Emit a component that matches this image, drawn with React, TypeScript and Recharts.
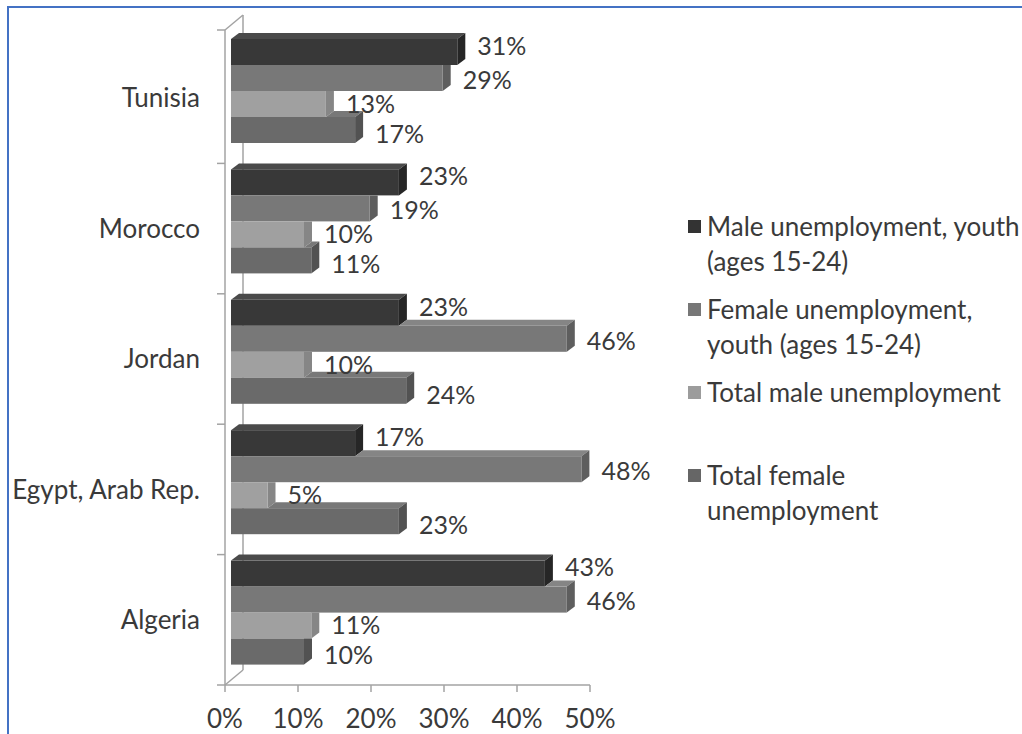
import React from "react";
import { BarChart, Bar, XAxis, YAxis, LabelList } from "recharts";

// Unemployment rates (%) by country
const countries = ["Tunisia", "Morocco", "Jordan", "Egypt, Arab Rep.", "Algeria"];
const maleYouth = [31, 23, 23, 17, 43];
const femaleYouth = [29, 19, 46, 48, 46];
const maleTotal = [13, 10, 10, 5, 11];
const femaleTotal = [17, 11, 24, 23, 10];

const xTicks = [0, 10, 20, 30, 40, 50];

const seriesKeys = ["maleYouth", "femaleYouth", "maleTotal", "femaleTotal"];
const seriesLegend = [
  ["Male unemployment, youth", "(ages 15-24)"],
  ["Female unemployment,", "youth (ages 15-24)"],
  ["Total male unemployment"],
  ["Total female", "unemployment"],
];
const seriesFront = ["#383838", "#787878", "#a0a0a0", "#6a6a6a"];
const seriesTop = ["#4a4a4a", "#858585", "#b0b0b0", "#787878"];
const seriesSide = ["#262626", "#5e5e5e", "#868686", "#525252"];
const legendSwatch = ["#333333", "#777777", "#9c9c9c", "#666666"];
// small vertical nudges so neighbouring value labels don't collide
const labelNudge = [-6, 2, 0, 4];

const data = countries.map((country, i) => ({
  country,
  maleYouth: maleYouth[i],
  femaleYouth: femaleYouth[i],
  maleTotal: maleTotal[i],
  femaleTotal: femaleTotal[i],
}));

const W = 1022;
const H = 734;
const PLOT_LEFT = 225;
const PLOT_RIGHT = 590;
const PLOT_TOP = 33;
const PLOT_BOTTOM = 685;

// 3D look: front face pushed into the box, then extruded backwards
const FACE_X = 6;
const FACE_Y = -7;
const DEPTH_X = 8;
const DEPTH_Y = -6;
const WALL_X = 18;
const WALL_Y = -15;

const FONT = "Lato, 'Noto Sans', sans-serif";
const TEXT = "#3a3a3a";
const AXIS = "#a3a3a3";

function Bar3D(props: any) {
  const { x, y, width, height, payload, seriesIndex } = props;
  if (!width || width <= 0) return null;
  const v = payload[seriesKeys[seriesIndex]];
  const prevV = seriesIndex > 0 ? payload[seriesKeys[seriesIndex - 1]] : 0;
  const prevW = v > 0 ? (width * prevV) / v : 0;
  const fx = x + FACE_X;
  const fy = y + FACE_Y;
  const right = fx + width;
  const bottom = fy + height;
  const x0 = fx + prevW;
  const covered = seriesIndex > 0 && prevW >= width;
  const side = covered
    ? `${right},${fy} ${right + DEPTH_X},${fy} ${right + DEPTH_X},${bottom + DEPTH_Y} ${right},${bottom}`
    : `${right},${fy} ${right + DEPTH_X},${fy + DEPTH_Y} ${right + DEPTH_X},${bottom + DEPTH_Y} ${right},${bottom}`;
  return (
    <g>
      {!covered && (
        <polygon
          points={`${x0},${fy} ${x0 + DEPTH_X},${fy + DEPTH_Y} ${right + DEPTH_X},${fy + DEPTH_Y} ${right},${fy}`}
          fill={seriesTop[seriesIndex]}
        />
      )}
      <polygon points={side} fill={seriesSide[seriesIndex]} />
      <rect x={fx} y={fy} width={width} height={height} fill={seriesFront[seriesIndex]} />
    </g>
  );
}

function BarValue(props: any) {
  const { x, y, width, height, value, seriesIndex } = props;
  return (
    <text
      x={x + width + FACE_X + DEPTH_X + 12}
      y={y + height / 2 + FACE_Y + labelNudge[seriesIndex]}
      dy="0.35em"
      fill={TEXT}
      fontSize={25}
      fontFamily={FONT}
    >
      {value}%
    </text>
  );
}

// side wall and floor edges of the 3D box
function Walls() {
  const band = (PLOT_BOTTOM - PLOT_TOP) / countries.length;
  const ticks = countries.map((_, i) => PLOT_TOP + band * i).concat([PLOT_BOTTOM]);
  return (
    <svg width={W} height={H} style={{ position: "absolute", left: 0, top: 0 }}>
      <g stroke={AXIS} strokeWidth={1.5} fill="none">
        <line x1={PLOT_LEFT} y1={PLOT_TOP - 3} x2={PLOT_LEFT} y2={PLOT_BOTTOM} />
        <line x1={PLOT_LEFT + WALL_X} y1={PLOT_TOP - 3 + WALL_Y} x2={PLOT_LEFT + WALL_X} y2={PLOT_BOTTOM + WALL_Y} />
        <line x1={PLOT_LEFT} y1={PLOT_TOP - 3} x2={PLOT_LEFT + WALL_X} y2={PLOT_TOP - 3 + WALL_Y} />
        <line x1={PLOT_LEFT} y1={PLOT_BOTTOM} x2={PLOT_LEFT + WALL_X} y2={PLOT_BOTTOM + WALL_Y} />
        {ticks.map((t, i) => (
          <line key={i} x1={PLOT_LEFT - 8} y1={i === 0 ? t - 3 : t} x2={PLOT_LEFT} y2={i === 0 ? t - 3 : t} />
        ))}
      </g>
    </svg>
  );
}

function LegendBox() {
  return (
    <div
      style={{
        position: "absolute",
        left: 688,
        top: 209,
        fontFamily: FONT,
        fontSize: 26,
        color: TEXT,
        lineHeight: "35px",
      }}
    >
      {seriesLegend.map((lines, i) => (
        <div key={i} style={{ position: "relative", height: 83, whiteSpace: "nowrap" }}>
          <div
            style={{
              position: "absolute",
              left: 0,
              top: 11,
              width: 13,
              height: 13,
              background: legendSwatch[i],
            }}
          />
          <div style={{ paddingLeft: 19 }}>
            {lines.map((l, j) => (
              <div key={j}>{l}</div>
            ))}
          </div>
        </div>
      ))}
    </div>
  );
}

export default function App() {
  return (
    <div
      style={{
        position: "absolute",
        left: 0,
        top: 0,
        width: W,
        height: H,
        overflow: "hidden",
        background: "#ffffff",
      }}
    >
      <div
        style={{
          position: "absolute",
          left: 7,
          top: 6,
          width: W,
          height: H,
          borderLeft: "2px solid #4472c4",
          borderTop: "2px solid #4472c4",
        }}
      />
      <Walls />
      <div style={{ position: "absolute", left: 0, top: 0 }}>
        <BarChart
          width={W}
          height={H}
          data={data}
          layout="vertical"
          margin={{ top: PLOT_TOP, right: W - PLOT_RIGHT, bottom: 0, left: 0 }}
          barSize={26}
          barGap={0}
        >
          <XAxis
            type="number"
            domain={[0, 50]}
            ticks={xTicks}
            tickFormatter={(v) => `${v}%`}
            height={H - PLOT_BOTTOM}
            axisLine={{ stroke: AXIS, strokeWidth: 1.5 }}
            tickLine={{ stroke: AXIS, strokeWidth: 1.5 }}
            tickSize={7}
            tickMargin={18}
            tick={{ fill: TEXT, fontSize: 26, fontFamily: FONT }}
            interval={0}
          />
          <YAxis
            type="category"
            dataKey="country"
            width={PLOT_LEFT}
            axisLine={false}
            tickLine={false}
            tickSize={0}
            tickMargin={25}
            tick={{ fill: TEXT, fontSize: 26, fontFamily: FONT }}
            interval={0}
          />
          {seriesKeys.map((key, i) => (
            <Bar
              key={key}
              dataKey={key}
              isAnimationActive={false}
              shape={(p: any) => <Bar3D {...p} seriesIndex={i} />}
            >
              <LabelList dataKey={key} content={(p: any) => <BarValue {...p} seriesIndex={i} />} />
            </Bar>
          ))}
        </BarChart>
      </div>
      <LegendBox />
    </div>
  );
}
